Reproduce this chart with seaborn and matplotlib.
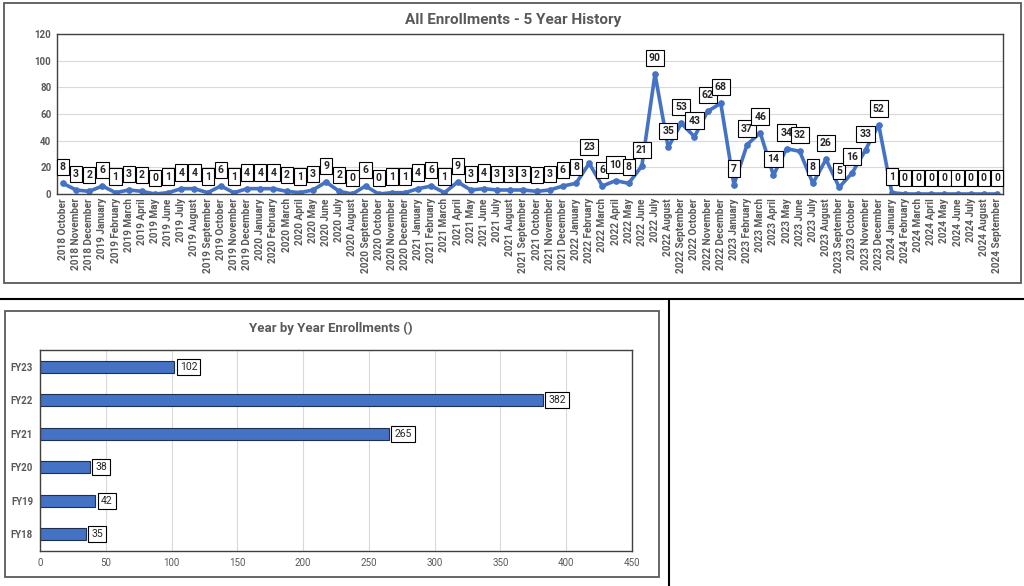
import pandas as pd
import seaborn as sns
import matplotlib
matplotlib.use("Agg")
import matplotlib.pyplot as plt
from matplotlib.patches import Rectangle
from matplotlib.lines import Line2D

years = [2018] * 3 + [2019] * 12 + [2020] * 12 + [2021] * 12 + [2022] * 12 + [2023] * 12 + [2024] * 9
month_names = ["January", "February", "March", "April", "May", "June", "July",
               "August", "September", "October", "November", "December"]
month_seq = month_names[9:] + month_names * 5 + month_names[:9]
months = [f"{y} {m}" for y, m in zip(years, month_seq)]

enrollments = [8, 3, 2,
               6, 1, 3, 2, 0, 1, 4, 4, 1, 6, 1, 4,
               4, 4, 2, 1, 3, 9, 2, 0, 6, 0, 1, 1,
               4, 6, 1, 9, 3, 4, 3, 3, 3, 2, 3, 6,
               8, 23, 6, 10, 8, 21, 90, 35, 53, 43, 62, 68,
               7, 37, 46, 14, 34, 32, 8, 26, 5, 16, 33, 52,
               1, 0, 0, 0, 0, 0, 0, 0, 0]

fiscal_years = ["FY23", "FY22", "FY21", "FY20", "FY19", "FY18"]
fy_totals = [102, 382, 265, 38, 42, 35]

blue = "#4472C4"
grey = "#595959"

sns.set_style("white")
plt.rcParams['font.family'] = ['Roboto', 'DejaVu Sans']

fig = plt.figure(figsize=(10.24, 5.86), dpi=100)
W, H = 1024, 586

def fx(px):
    return px / W

def fy(py):
    return 1 - py / H

# frames around charts and separator lines
fig.add_artist(Rectangle((fx(4), fy(283)), fx(1017), 280 / H, transform=fig.transFigure,
                         fill=False, ec="#595959", lw=1.3))
fig.add_artist(Rectangle((fx(5), fy(577)), fx(654), 266 / H, transform=fig.transFigure,
                         fill=False, ec="#595959", lw=1.3))
fig.add_artist(Line2D([0, 1], [fy(299), fy(299)], transform=fig.transFigure, color="black", lw=1.5))
fig.add_artist(Line2D([fx(669), fx(669)], [fy(299), 0], transform=fig.transFigure, color="black", lw=1.5))

# line chart
ax1 = fig.add_axes([fx(57), fy(194), fx(1003 - 57), (194 - 34) / H])
df = pd.DataFrame({"Month": months, "Enrollments": enrollments})
sns.lineplot(data=df, x="Month", y="Enrollments", sort=False, color=blue, lw=2.6,
             marker="o", markersize=4, markeredgecolor=blue, ax=ax1)
ax1.set_xlim(-0.45, len(months) - 0.55)
ax1.set_ylim(0, 120)
ax1.set_yticks(range(0, 121, 20))
ax1.yaxis.grid(True, color="#d9d9d9", lw=0.8)
ax1.set_axisbelow(True)
ax1.set_xlabel("")
ax1.set_ylabel("")
ax1.tick_params(axis="x", labelrotation=90, labelsize=7.2, colors=grey, length=0, pad=3)
ax1.tick_params(axis="y", labelsize=7, colors=grey, length=0, pad=4)
for lbl in ax1.get_xticklabels() + ax1.get_yticklabels():
    lbl.set_fontweight("bold")
for s in ax1.spines.values():
    s.set_color("#404040")
    s.set_linewidth(1.0)
for i, v in enumerate(enrollments):
    ax1.annotate(str(v), (i, v), xytext=(0, 8), textcoords="offset points",
                 ha="center", va="bottom", fontsize=7.5, fontweight="bold", color="#262626",
                 bbox=dict(boxstyle="square,pad=0.3", fc="white", ec="black", lw=0.8))
fig.text(fx(513), fy(20), "All Enrollments - 5 Year History", ha="center", va="center",
         fontsize=11, fontweight="bold", color=grey)

# bar chart
ax2 = fig.add_axes([fx(40), fy(551), fx(632 - 40), (551 - 350) / H])
sns.barplot(x=fy_totals, y=fiscal_years, orient="h", order=fiscal_years, color=blue,
            width=0.35, edgecolor="#1f2f4f", linewidth=0.8, saturation=1, ax=ax2)
ax2.set_xlim(0, 450)
ax2.set_xticks(range(0, 451, 50))
ax2.xaxis.grid(True, color="#d9d9d9", lw=0.8)
ax2.set_axisbelow(True)
ax2.tick_params(axis="both", labelsize=7, colors=grey, length=0, pad=5)
for lbl in ax2.get_yticklabels():
    lbl.set_fontweight("bold")
for s in ax2.spines.values():
    s.set_color("#404040")
    s.set_linewidth(1.0)
for i, v in enumerate(fy_totals):
    ax2.annotate(str(v), (v, i), xytext=(4, 0), textcoords="offset points",
                 ha="left", va="center", fontsize=7.5, color="#262626",
                 bbox=dict(boxstyle="square,pad=0.3", fc="white", ec="black", lw=0.8))
fig.text(fx(331), fy(328), "Year by Year Enrollments ()", ha="center", va="center",
         fontsize=9.5, fontweight="bold", color=grey)

plt.savefig("out.png", dpi=100)
